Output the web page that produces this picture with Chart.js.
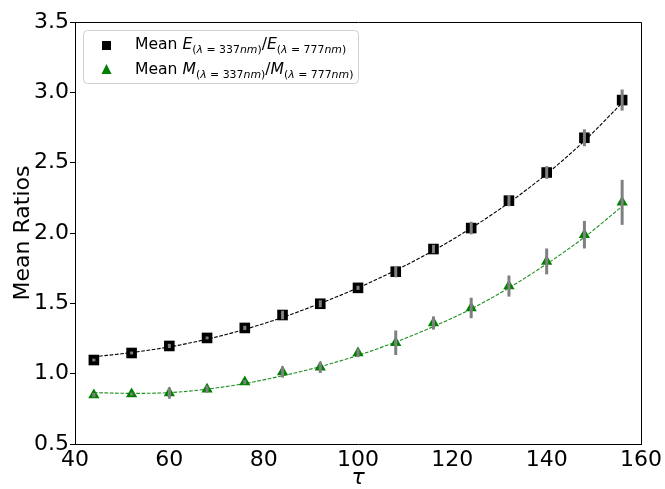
<!DOCTYPE html>
<html>
<head>
<meta charset="utf-8">
<script src="https://cdn.jsdelivr.net/npm/chart.js@4.4.1/dist/chart.umd.min.js"></script>
<style>
  html, body { margin: 0; padding: 0; background: #fff; }
</style>
</head>
<body>
<canvas id="chart" width="665" height="489"></canvas>
<script>
// Data
const tau = [44, 52, 60, 68, 76, 84, 92, 100, 108, 116, 124, 132, 140, 148, 156];
const meanE = [1.097, 1.147, 1.197, 1.254, 1.325, 1.417, 1.497, 1.61, 1.725, 1.886, 2.035, 2.23, 2.43, 2.677, 2.945];
const errE = [0.01, 0.01, 0.015, 0.01, 0.015, 0.03, 0.025, 0.015, 0.04, 0.03, 0.045, 0.04, 0.045, 0.06, 0.075];
const meanM = [0.848, 0.855, 0.862, 0.89, 0.94, 1.012, 1.045, 1.147, 1.22, 1.36, 1.467, 1.623, 1.798, 1.988, 2.218];
const errM = [0.015, 0.01, 0.04, 0.025, 0.015, 0.04, 0.04, 0.03, 0.087, 0.047, 0.073, 0.075, 0.092, 0.098, 0.16];
const fitE = [1.12, 1.15, 1.19, 1.245, 1.315, 1.40, 1.50, 1.61, 1.735, 1.875, 2.035, 2.215, 2.42, 2.655, 2.925];
const fitM = [0.865, 0.86, 0.865, 0.89, 0.93, 0.985, 1.05, 1.13, 1.225, 1.335, 1.46, 1.61, 1.78, 1.97, 2.19];
const xTicks = [40, 60, 80, 100, 120, 140, 160];
const yTicks = [0.5, 1.0, 1.5, 2.0, 2.5, 3.0, 3.5];

// legend text pieces: r = regular, i = italic, s = subscript
const legendLabels = [
  [['Mean ', 'r'], ['E', 'i'], ['(', 'sr'], ['λ', 'si'], [' = ', 'sr'], ['337', 'sr'], ['nm', 'si'], [')', 'sr'],
   ['/', 'r'], ['E', 'i'], ['(', 'sr'], ['λ', 'si'], [' = ', 'sr'], ['777', 'sr'], ['nm', 'si'], [')', 'sr']],
  [['Mean ', 'r'], ['M', 'i'], ['(', 'sr'], ['λ', 'si'], [' = ', 'sr'], ['337', 'sr'], ['nm', 'si'], [')', 'sr'],
   ['/', 'r'], ['M', 'i'], ['(', 'sr'], ['λ', 'si'], [' = ', 'sr'], ['777', 'sr'], ['nm', 'si'], [')', 'sr']]
];

const FONT = '"DejaVu Sans"';
Chart.defaults.font.family = FONT;
Chart.defaults.color = '#000';

const pts = (ys) => tau.map((x, i) => ({ x: x, y: ys[i] }));

// grey vertical error bars, drawn over the markers
const errorBars = {
  id: 'errorBars',
  afterDatasetsDraw(chart) {
    const { ctx, scales: { x, y } } = chart;
    ctx.save();
    ctx.strokeStyle = '#808080';
    ctx.lineWidth = 3;
    [[meanE, errE], [meanM, errM]].forEach(([vals, errs]) => {
      tau.forEach((t, i) => {
        const px = x.getPixelForValue(t);
        ctx.beginPath();
        ctx.moveTo(px, y.getPixelForValue(vals[i] - errs[i]));
        ctx.lineTo(px, y.getPixelForValue(vals[i] + errs[i]));
        ctx.stroke();
      });
    });
    ctx.restore();
  }
};

// top and right spines
const frame = {
  id: 'frame',
  afterDraw(chart) {
    const { ctx, chartArea: a } = chart;
    ctx.save();
    ctx.strokeStyle = '#000';
    ctx.lineWidth = 1;
    ctx.beginPath();
    ctx.moveTo(Math.round(a.left) + 0.5, Math.round(a.top) + 0.5);
    ctx.lineTo(Math.round(a.right) + 0.5, Math.round(a.top) + 0.5);
    ctx.lineTo(Math.round(a.right) + 0.5, Math.round(a.bottom) + 0.5);
    ctx.stroke();
    ctx.restore();
  }
};

// legend with subscripts
const mathLegend = {
  id: 'mathLegend',
  afterDraw(chart) {
    const ctx = chart.ctx;
    const size = 15.6;
    ctx.save();
    ctx.beginPath();
    ctx.roundRect(83.5, 30.5, 275, 53, 4);
    ctx.fillStyle = 'rgba(255,255,255,0.8)';
    ctx.fill();
    ctx.strokeStyle = '#d0d0d0';
    ctx.lineWidth = 1;
    ctx.stroke();

    // markers
    ctx.fillStyle = '#000';
    ctx.fillRect(102, 41, 9, 9);
    ctx.fillStyle = '#008000';
    ctx.beginPath();
    ctx.moveTo(106.5, 64);
    ctx.lineTo(101.5, 74);
    ctx.lineTo(111.5, 74);
    ctx.closePath();
    ctx.fill();

    ctx.fillStyle = '#000';
    ctx.textBaseline = 'alphabetic';
    const baselines = [49, 74];
    legendLabels.forEach((parts, r) => {
      let x = 135;
      parts.forEach(([t, st]) => {
        const sub = st[0] === 's';
        const it = st[st.length - 1] === 'i';
        const s = sub ? size * 0.7 : size;
        ctx.font = (it ? 'italic ' : '') + s + 'px ' + FONT;
        ctx.fillText(t, x, baselines[r] + (sub ? 4 : 0));
        x += ctx.measureText(t).width;
      });
    });
    ctx.restore();
  }
};

new Chart(document.getElementById('chart'), {
  type: 'scatter',
  data: {
    datasets: [
      {
        label: 'Mean E', data: pts(meanE),
        pointStyle: 'rect', pointRadius: 7.5, pointBackgroundColor: '#000', pointBorderColor: '#000', pointBorderWidth: 0
      },
      {
        label: 'Mean M', data: pts(meanM),
        pointStyle: 'triangle', pointRadius: 6.5, pointBackgroundColor: '#008000', pointBorderColor: '#008000', pointBorderWidth: 0
      },
      {
        label: 'fit E', data: pts(fitE), showLine: true, pointRadius: 0,
        borderColor: '#000', borderWidth: 1.1, borderDash: [3.7, 1.6], cubicInterpolationMode: 'monotone'
      },
      {
        label: 'fit M', data: pts(fitM), showLine: true, pointRadius: 0,
        borderColor: '#1f8f1f', borderWidth: 1.1, borderDash: [3.7, 1.6], cubicInterpolationMode: 'monotone'
      }
    ]
  },
  options: {
    responsive: false,
    animation: false,
    layout: { padding: { top: 22, right: 23, left: 0, bottom: 0 } },
    plugins: { legend: { display: false }, tooltip: { enabled: false } },
    scales: {
      x: {
        type: 'linear', min: 40, max: 160,
        afterBuildTicks: axis => { axis.ticks = xTicks.map(v => ({ value: v })); },
        afterFit: s => { s.height = 45; },
        grid: { display: false, drawTicks: false },
        border: { display: true, color: '#000', width: 1 },
        ticks: { font: { size: 22 }, padding: 3, maxRotation: 0, autoSkip: false },
        title: { display: true, text: 'τ', font: { size: 22, style: 'italic' }, padding: { top: 0, bottom: -2 } }
      },
      y: {
        type: 'linear', min: 0.5, max: 3.5,
        afterBuildTicks: axis => { axis.ticks = yTicks.map(v => ({ value: v })); },
        afterFit: s => { s.width = 75; },
        grid: { display: true, drawOnChartArea: false, drawTicks: true, tickLength: 5, color: '#000' },
        border: { display: true, color: '#000', width: 1 },
        ticks: { font: { size: 22 }, padding: 1, callback: v => v.toFixed(1), autoSkip: false },
        title: { display: true, text: 'Mean Ratios', font: { size: 22 }, padding: { top: 10, bottom: 0 } }
      }
    }
  },
  plugins: [errorBars, frame, mathLegend]
});
</script>
</body>
</html>
